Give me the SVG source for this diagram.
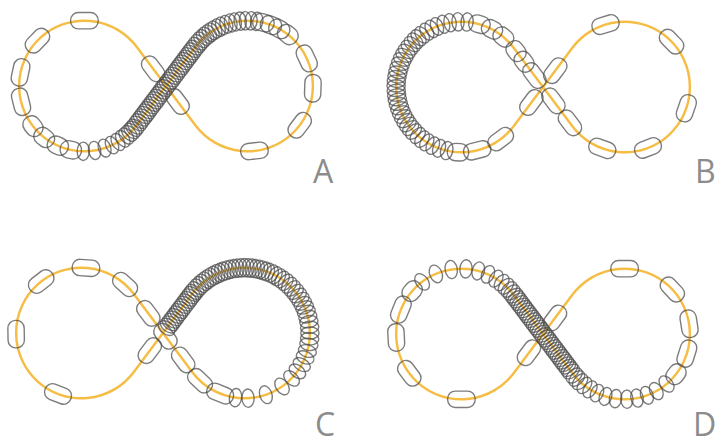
<svg xmlns="http://www.w3.org/2000/svg" xmlns:xlink="http://www.w3.org/1999/xlink" width="726" height="447" viewBox="0 0 726 447">
<style>
.track{fill:none;stroke:#F6BD45;stroke-width:2.4}
.beads use{fill:none;stroke:#4a4a4a;stroke-opacity:.72;stroke-width:1.35}
.lbl{font-family:"Open Sans","Liberation Sans",sans-serif;font-size:32px;fill:#8c8c8c}
</style>
<defs>
<path id="fig8" d="M28.8,38.4 L-28.8,-38.4 A64,64 0 1 0 -28.8,38.4 L28.8,-38.4 A64,64 0 1 1 28.8,38.4 Z"/>
<rect id="s" x="-8" y="-13.5" width="16" height="27" rx="7.5"/>
<rect id="m" x="-8.5" y="-10.5" width="17" height="21" rx="8"/>
<ellipse id="d" rx="9" ry="6"/>
</defs>
<rect width="726" height="447" fill="#fff"/>

<g id="panelA">
<g transform="translate(166 86) scale(1.02)">
<use href="#fig8" class="track"/>
<g class="beads">
<g transform="translate(-80 0)">
<use href="#s" transform="rotate(270) translate(64)"/><use href="#s" transform="rotate(224) translate(64)"/><use href="#s" transform="rotate(192) translate(64)"/><use href="#s" transform="rotate(166) translate(64)"/>
<use href="#m" transform="rotate(142) translate(64)"/><use href="#m" transform="rotate(128) translate(64)"/><use href="#m" transform="rotate(114) translate(64)"/><use href="#m" transform="rotate(102) translate(64)"/>
<use href="#d" transform="rotate(91) translate(64)"/><use href="#d" transform="rotate(81) translate(64)"/><use href="#d" transform="rotate(72) translate(64)"/><use href="#d" transform="rotate(65) translate(64)"/><use href="#d" transform="rotate(59) translate(64)"/><use href="#d" transform="rotate(54) translate(64)"/><use href="#d" transform="rotate(50) translate(64)"/><use href="#d" transform="rotate(46.5) translate(64)"/><use href="#d" transform="rotate(43.5) translate(64)"/><use href="#d" transform="rotate(41) translate(64)"/><use href="#d" transform="rotate(38.5) translate(64)"/>
</g>
<g transform="rotate(-53.13)">
<use href="#d" transform="translate(-46) rotate(90)"/><use href="#d" transform="translate(-43) rotate(90)"/><use href="#d" transform="translate(-40) rotate(90)"/><use href="#d" transform="translate(-37) rotate(90)"/><use href="#d" transform="translate(-34) rotate(90)"/><use href="#d" transform="translate(-31) rotate(90)"/><use href="#d" transform="translate(-28) rotate(90)"/><use href="#d" transform="translate(-25) rotate(90)"/><use href="#d" transform="translate(-22) rotate(90)"/><use href="#d" transform="translate(-19) rotate(90)"/><use href="#d" transform="translate(-16) rotate(90)"/><use href="#d" transform="translate(-13) rotate(90)"/><use href="#d" transform="translate(-10) rotate(90)"/><use href="#d" transform="translate(-7) rotate(90)"/><use href="#d" transform="translate(-4) rotate(90)"/><use href="#d" transform="translate(-1) rotate(90)"/><use href="#d" transform="translate(2) rotate(90)"/><use href="#d" transform="translate(5) rotate(90)"/><use href="#d" transform="translate(8) rotate(90)"/><use href="#d" transform="translate(11) rotate(90)"/><use href="#d" transform="translate(14) rotate(90)"/><use href="#d" transform="translate(17) rotate(90)"/><use href="#d" transform="translate(20) rotate(90)"/><use href="#d" transform="translate(23) rotate(90)"/><use href="#d" transform="translate(26) rotate(90)"/><use href="#d" transform="translate(29) rotate(90)"/><use href="#d" transform="translate(32) rotate(90)"/><use href="#d" transform="translate(35) rotate(90)"/><use href="#d" transform="translate(38) rotate(90)"/><use href="#d" transform="translate(41) rotate(90)"/><use href="#d" transform="translate(44) rotate(90)"/><use href="#d" transform="translate(47) rotate(90)"/>
</g>
<g transform="rotate(53.13)">
<use href="#s" transform="translate(-21) rotate(90)"/><use href="#s" transform="translate(19) rotate(90)"/>
</g>
<g transform="translate(80 0)">
<use href="#d" transform="rotate(219) translate(64)"/><use href="#d" transform="rotate(222) translate(64)"/><use href="#d" transform="rotate(225) translate(64)"/><use href="#d" transform="rotate(228) translate(64)"/><use href="#d" transform="rotate(231) translate(64)"/><use href="#d" transform="rotate(234) translate(64)"/><use href="#d" transform="rotate(237) translate(64)"/><use href="#d" transform="rotate(240) translate(64)"/><use href="#d" transform="rotate(243.5) translate(64)"/><use href="#d" transform="rotate(247) translate(64)"/><use href="#d" transform="rotate(251) translate(64)"/><use href="#d" transform="rotate(255) translate(64)"/><use href="#d" transform="rotate(259) translate(64)"/><use href="#d" transform="rotate(263.5) translate(64)"/><use href="#d" transform="rotate(268) translate(64)"/><use href="#d" transform="rotate(273) translate(64)"/><use href="#d" transform="rotate(278) translate(64)"/>
<use href="#m" transform="rotate(284) translate(64)"/><use href="#m" transform="rotate(291) translate(64)"/><use href="#m" transform="rotate(299) translate(64)"/><use href="#m" transform="rotate(308) translate(64)"/>
<use href="#s" transform="rotate(335) translate(64)"/><use href="#s" transform="rotate(2) translate(64)"/><use href="#s" transform="rotate(37) translate(64)"/><use href="#s" transform="rotate(84) translate(64)"/>
</g>
</g>
</g>
<text class="lbl" x="313" y="183">A</text>
</g>

<g id="panelB">
<g transform="translate(543 87) scale(1.02)">
<use href="#fig8" class="track"/>
<g class="beads">
<g transform="translate(-80 0)">
<use href="#m" transform="rotate(-50) translate(64)"/><use href="#m" transform="rotate(-62) translate(64)"/><use href="#m" transform="rotate(-74) translate(64)"/>
<use href="#d" transform="rotate(-85) translate(64)"/><use href="#d" transform="rotate(-93) translate(64)"/><use href="#d" transform="rotate(-100) translate(64)"/><use href="#d" transform="rotate(-106) translate(64)"/><use href="#d" transform="rotate(-112) translate(64)"/><use href="#d" transform="rotate(-117) translate(64)"/><use href="#d" transform="rotate(-122) translate(64)"/><use href="#d" transform="rotate(-127) translate(64)"/><use href="#d" transform="rotate(-131) translate(64)"/><use href="#d" transform="rotate(-135) translate(64)"/><use href="#d" transform="rotate(-139) translate(64)"/><use href="#d" transform="rotate(-143) translate(64)"/><use href="#d" transform="rotate(-147) translate(64)"/><use href="#d" transform="rotate(-151) translate(64)"/><use href="#d" transform="rotate(-155) translate(64)"/><use href="#d" transform="rotate(-159) translate(64)"/><use href="#d" transform="rotate(-163) translate(64)"/><use href="#d" transform="rotate(-167) translate(64)"/><use href="#d" transform="rotate(-171) translate(64)"/><use href="#d" transform="rotate(-175) translate(64)"/><use href="#d" transform="rotate(-179) translate(64)"/><use href="#d" transform="rotate(177) translate(64)"/><use href="#d" transform="rotate(173) translate(64)"/><use href="#d" transform="rotate(169) translate(64)"/><use href="#d" transform="rotate(165) translate(64)"/><use href="#d" transform="rotate(161) translate(64)"/><use href="#d" transform="rotate(157) translate(64)"/><use href="#d" transform="rotate(153) translate(64)"/><use href="#d" transform="rotate(149) translate(64)"/><use href="#d" transform="rotate(145) translate(64)"/><use href="#d" transform="rotate(141) translate(64)"/><use href="#d" transform="rotate(137) translate(64)"/><use href="#d" transform="rotate(132) translate(64)"/><use href="#d" transform="rotate(127) translate(64)"/><use href="#d" transform="rotate(122) translate(64)"/><use href="#d" transform="rotate(116) translate(64)"/><use href="#d" transform="rotate(110) translate(64)"/><use href="#d" transform="rotate(103) translate(64)"/>
<use href="#m" transform="rotate(93) translate(64)"/><use href="#s" transform="rotate(76) translate(64)"/><use href="#s" transform="rotate(53) translate(64)"/>
</g>
<g transform="rotate(-53.13)">
<use href="#s" transform="translate(-19) rotate(90)"/><use href="#s" transform="translate(20) rotate(90)"/>
</g>
<g transform="rotate(53.13)">
<use href="#m" transform="translate(-44) rotate(90)"/><use href="#m" transform="translate(-31) rotate(90)"/><use href="#s" transform="translate(-14) rotate(90)"/><use href="#s" transform="translate(17) rotate(90)"/><use href="#s" transform="translate(44) rotate(90)"/>
</g>
<g transform="translate(80 0)">
<use href="#s" transform="rotate(253) translate(64)"/><use href="#s" transform="rotate(316) translate(64)"/><use href="#s" transform="rotate(19) translate(64)"/><use href="#s" transform="rotate(69) translate(64)"/><use href="#s" transform="rotate(110) translate(64)"/>
</g>
</g>
</g>
<text class="lbl" x="695" y="183">B</text>
</g>

<g id="panelC">
<g transform="translate(163 333) scale(1.02)">
<use href="#fig8" class="track"/>
<g class="beads">
<g transform="translate(-80 0)">
<use href="#s" transform="rotate(274) translate(64)"/><use href="#s" transform="rotate(232) translate(64)"/><use href="#s" transform="rotate(179) translate(64)"/><use href="#s" transform="rotate(111) translate(64)"/><use href="#s" transform="rotate(312) translate(64)"/>
</g>
<g transform="rotate(53.13)">
<use href="#s" transform="translate(-24) rotate(90)"/><use href="#s" transform="translate(4) rotate(90)"/><use href="#s" transform="translate(33) rotate(90)"/>
</g>
<g transform="rotate(-53.13)">
<use href="#s" transform="translate(-21.6) rotate(90)"/>
<use href="#d" transform="translate(6) rotate(90)"/><use href="#d" transform="translate(9) rotate(90)"/><use href="#d" transform="translate(12) rotate(90)"/><use href="#d" transform="translate(15) rotate(90)"/><use href="#d" transform="translate(18) rotate(90)"/><use href="#d" transform="translate(21) rotate(90)"/><use href="#d" transform="translate(24) rotate(90)"/><use href="#d" transform="translate(27) rotate(90)"/><use href="#d" transform="translate(30) rotate(90)"/><use href="#d" transform="translate(33) rotate(90)"/><use href="#d" transform="translate(36) rotate(90)"/><use href="#d" transform="translate(39) rotate(90)"/><use href="#d" transform="translate(42) rotate(90)"/><use href="#d" transform="translate(45) rotate(90)"/><use href="#d" transform="translate(48) rotate(90)"/>
</g>
<g transform="translate(80 0)">
<use href="#d" transform="rotate(219) translate(64)"/><use href="#d" transform="rotate(222) translate(64)"/><use href="#d" transform="rotate(225) translate(64)"/><use href="#d" transform="rotate(228) translate(64)"/><use href="#d" transform="rotate(231) translate(64)"/><use href="#d" transform="rotate(234) translate(64)"/><use href="#d" transform="rotate(237) translate(64)"/><use href="#d" transform="rotate(240) translate(64)"/><use href="#d" transform="rotate(243) translate(64)"/><use href="#d" transform="rotate(246) translate(64)"/><use href="#d" transform="rotate(249) translate(64)"/><use href="#d" transform="rotate(252) translate(64)"/><use href="#d" transform="rotate(255) translate(64)"/><use href="#d" transform="rotate(258) translate(64)"/><use href="#d" transform="rotate(261) translate(64)"/><use href="#d" transform="rotate(264) translate(64)"/><use href="#d" transform="rotate(267) translate(64)"/><use href="#d" transform="rotate(270) translate(64)"/><use href="#d" transform="rotate(273) translate(64)"/><use href="#d" transform="rotate(276) translate(64)"/><use href="#d" transform="rotate(279) translate(64)"/><use href="#d" transform="rotate(282) translate(64)"/><use href="#d" transform="rotate(285) translate(64)"/><use href="#d" transform="rotate(288) translate(64)"/><use href="#d" transform="rotate(291) translate(64)"/><use href="#d" transform="rotate(294.5) translate(64)"/><use href="#d" transform="rotate(298) translate(64)"/><use href="#d" transform="rotate(301.5) translate(64)"/><use href="#d" transform="rotate(305) translate(64)"/><use href="#d" transform="rotate(309) translate(64)"/><use href="#d" transform="rotate(313) translate(64)"/><use href="#d" transform="rotate(317) translate(64)"/><use href="#d" transform="rotate(321) translate(64)"/><use href="#d" transform="rotate(325) translate(64)"/><use href="#d" transform="rotate(329) translate(64)"/><use href="#d" transform="rotate(333) translate(64)"/><use href="#d" transform="rotate(337) translate(64)"/><use href="#d" transform="rotate(341) translate(64)"/><use href="#d" transform="rotate(345.5) translate(64)"/><use href="#d" transform="rotate(350) translate(64)"/><use href="#d" transform="rotate(355) translate(64)"/><use href="#d" transform="rotate(0) translate(64)"/><use href="#d" transform="rotate(5) translate(64)"/><use href="#d" transform="rotate(10) translate(64)"/><use href="#d" transform="rotate(16) translate(64)"/><use href="#d" transform="rotate(22) translate(64)"/><use href="#d" transform="rotate(29) translate(64)"/><use href="#d" transform="rotate(36) translate(64)"/><use href="#d" transform="rotate(44) translate(64)"/><use href="#d" transform="rotate(55) translate(64)"/><use href="#d" transform="rotate(71) translate(64)"/><use href="#d" transform="rotate(87) translate(64)"/><use href="#d" transform="rotate(98) translate(64)"/>
<use href="#s" transform="rotate(112) translate(64)"/><use href="#s" transform="rotate(133) translate(64)"/>
</g>
</g>
</g>
<text class="lbl" x="315" y="436">C</text>
</g>

<g id="panelD">
<g transform="translate(543 334) scale(1.02)">
<use href="#fig8" class="track"/>
<g class="beads">
<g transform="translate(-80 0)">
<use href="#s" transform="rotate(90) translate(64)"/><use href="#s" transform="rotate(143) translate(64)"/><use href="#s" transform="rotate(177) translate(64)"/><use href="#s" transform="rotate(202) translate(64)"/>
<use href="#m" transform="rotate(221) translate(64)"/>
<use href="#d" transform="rotate(233) translate(64)"/><use href="#d" transform="rotate(247) translate(64)"/><use href="#d" transform="rotate(261) translate(64)"/><use href="#d" transform="rotate(274) translate(64)"/><use href="#d" transform="rotate(285) translate(64)"/><use href="#d" transform="rotate(294) translate(64)"/><use href="#d" transform="rotate(302) translate(64)"/><use href="#d" transform="rotate(308) translate(64)"/><use href="#d" transform="rotate(313) translate(64)"/><use href="#d" transform="rotate(317) translate(64)"/><use href="#d" transform="rotate(320.5) translate(64)"/>
</g>
<g transform="rotate(53.13)">
<use href="#d" transform="translate(-47) rotate(90)"/><use href="#d" transform="translate(-44) rotate(90)"/><use href="#d" transform="translate(-41) rotate(90)"/><use href="#d" transform="translate(-38) rotate(90)"/><use href="#d" transform="translate(-35) rotate(90)"/><use href="#d" transform="translate(-32) rotate(90)"/><use href="#d" transform="translate(-29) rotate(90)"/><use href="#d" transform="translate(-26) rotate(90)"/><use href="#d" transform="translate(-23) rotate(90)"/><use href="#d" transform="translate(-20) rotate(90)"/><use href="#d" transform="translate(-17) rotate(90)"/><use href="#d" transform="translate(-14) rotate(90)"/><use href="#d" transform="translate(-11) rotate(90)"/><use href="#d" transform="translate(-8) rotate(90)"/><use href="#d" transform="translate(-5) rotate(90)"/><use href="#d" transform="translate(-2) rotate(90)"/><use href="#d" transform="translate(1) rotate(90)"/><use href="#d" transform="translate(4) rotate(90)"/><use href="#d" transform="translate(7) rotate(90)"/><use href="#d" transform="translate(10) rotate(90)"/><use href="#d" transform="translate(13) rotate(90)"/><use href="#d" transform="translate(16) rotate(90)"/><use href="#d" transform="translate(19) rotate(90)"/><use href="#d" transform="translate(22) rotate(90)"/><use href="#d" transform="translate(25) rotate(90)"/><use href="#d" transform="translate(28) rotate(90)"/><use href="#d" transform="translate(31) rotate(90)"/><use href="#d" transform="translate(34) rotate(90)"/><use href="#d" transform="translate(37) rotate(90)"/><use href="#d" transform="translate(40) rotate(90)"/><use href="#d" transform="translate(43) rotate(90)"/><use href="#d" transform="translate(46) rotate(90)"/>
</g>
<g transform="rotate(-53.13)">
<use href="#s" transform="translate(-23) rotate(90)"/><use href="#s" transform="translate(19.6) rotate(90)"/>
</g>
<g transform="translate(80 0)">
<use href="#s" transform="rotate(270) translate(64)"/><use href="#s" transform="rotate(317) translate(64)"/><use href="#s" transform="rotate(351) translate(64)"/><use href="#s" transform="rotate(17.5) translate(64)"/>
<use href="#m" transform="rotate(38) translate(64)"/>
<use href="#d" transform="rotate(50) translate(64)"/><use href="#d" transform="rotate(61) translate(64)"/><use href="#d" transform="rotate(70) translate(64)"/><use href="#d" transform="rotate(79) translate(64)"/><use href="#d" transform="rotate(88) translate(64)"/><use href="#d" transform="rotate(98) translate(64)"/><use href="#d" transform="rotate(107) translate(64)"/><use href="#d" transform="rotate(115) translate(64)"/><use href="#d" transform="rotate(122) translate(64)"/><use href="#d" transform="rotate(128) translate(64)"/><use href="#d" transform="rotate(133) translate(64)"/><use href="#d" transform="rotate(137) translate(64)"/><use href="#d" transform="rotate(140.5) translate(64)"/>
</g>
</g>
</g>
<text class="lbl" x="693" y="436">D</text>
</g>
</svg>
